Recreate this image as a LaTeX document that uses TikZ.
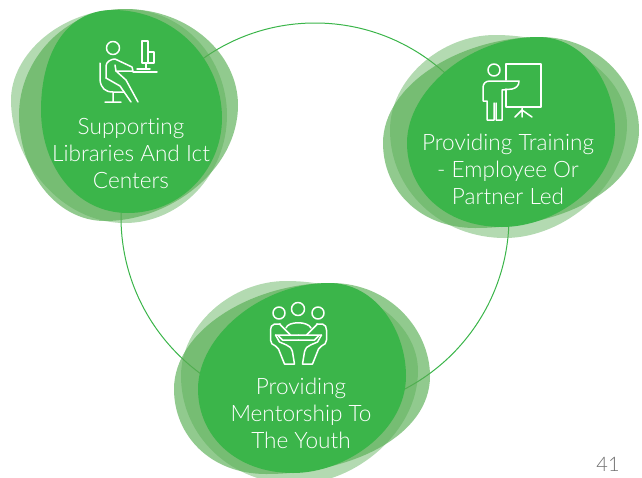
\documentclass[tikz,border=0pt]{standalone}
\usepackage{fontspec}
\setmainfont{Lato Light}[Ligatures=NoCommon]
\usepackage{xcolor}
\usetikzlibrary{positioning}
\definecolor{leaf}{RGB}{59,181,74}
\definecolor{haze}{RGB}{86,173,82}
\definecolor{pagegray}{RGB}{110,110,110}

\begin{document}
\begin{tikzpicture}[x=1pt,y=-1pt,every node/.style={align=center,text=white,font=\fontsize{22.6}{27}\selectfont},
  icon/.style={draw=white,line width=1.5pt,line join=round,line cap=round},
  mid/.style={fill=haze,fill opacity=.65},
  pale/.style={fill=haze,fill opacity=.45},
  solid/.style={fill=leaf}]
  \useasboundingbox (0,0) rectangle (642,477);

  % the wide blob, used twice
  \def\wideblobs{
    \fill[mid] (540,37) .. controls (600,37) and (639,85) .. (639,130) .. controls (639,190) and (560,228) .. (475,228) .. controls (420,228) and (383,190) .. (383,143) .. controls (383,85) and (460,37) .. (540,37) -- cycle;
    \fill[pale] (495,35) .. controls (570,35) and (627,75) .. (627,125) .. controls (627,185) and (565,238) .. (505,238) .. controls (440,238) and (390,190) .. (390,130) .. controls (390,80) and (440,35) .. (495,35) -- cycle;
    \fill[solid] (538,37) .. controls (585,37) and (615,85) .. (615,130) .. controls (615,185) and (555,227) .. (502,227) .. controls (445,227) and (407,190) .. (407,143) .. controls (407,90) and (470,37) .. (538,37) -- cycle;
  }

  % ring
  \draw[leaf,line width=1pt] (315,217) circle (194);

  % supporting
  \begin{scope}
    \fill[mid] (125,9) .. controls (190,9) and (238,55) .. (238,105) .. controls (238,170) and (170,221) .. (105,221) .. controls (55,221) and (19,170) .. (19,115) .. controls (19,60) and (65,9) .. (125,9) -- cycle;
    \fill[pale] (125,9) .. controls (185,9) and (227,60) .. (227,115) .. controls (227,175) and (180,223) .. (125,223) .. controls (60,223) and (11,160) .. (11,100) .. controls (11,55) and (60,9) .. (125,9) -- cycle;
    \fill[solid] (113,10) .. controls (175,10) and (222,60) .. (222,118) .. controls (222,170) and (180,213) .. (128,213) .. controls (75,213) and (41,165) .. (41,110) .. controls (41,55) and (65,10) .. (113,10) -- cycle;

    \draw[icon] (113,48) circle (6.5);
    \draw[icon] (142,41) rectangle (148,63);
    \draw[icon] (148,52) -- (154,52) -- (154,63) -- (148,63);
    \draw[icon] (133,72) -- (157,72) (146,63) -- (146,69) (137,69) -- (150,69);
    \draw[icon] (106,78) -- (106,66) .. controls (106,62) and (111,59) .. (115,59) -- (132,67) -- (133,71) -- (116,71) -- (126,80) -- (138,102);
    \draw[icon] (106,78) -- (120,86) -- (131,102) (115,65) -- (116,71);
    \draw[icon] (100,63) -- (100,80) .. controls (101,88) and (105,92) .. (113,92) -- (124,92) (113,92) -- (113,102) (105,102) -- (121,102);

    \node (supportlabel) at (131,154) {Supporting\\Libraries And Ict\\Centers};
  \end{scope}

  % training
  \begin{scope}
    \wideblobs
    \draw[icon] (494,70) circle (6);
    \draw[icon] (506,80) -- (506,64) -- (541,64) -- (541,107) -- (506,107) -- (506,89);
    \draw[icon] (522,107) -- (522,117) (515,117) -- (522,110) -- (532,117);
    \draw[icon] (519,81) -- (490,81) .. controls (485,81) and (483,84) .. (483,88) -- (483,101) -- (487,101) -- (487,120) -- (494,120) -- (494,103) (496,103) -- (496,120) -- (502,120) -- (502,90) -- (512,89) .. controls (516,88) and (519,86) .. (519,81);

    \node (trainlabel) at (508,169) {Providing Training\\- Employee Or\\Partner Led};
  \end{scope}

  % mentorship
  \begin{scope}[shift={(-209,246)}]
    \wideblobs
  \end{scope}
  \begin{scope}
    \draw[icon] (279,313) circle (6) (298,309) circle (6.5) (318,313) circle (6);
    \draw[icon] (286,328) .. controls (288,321) and (308,321) .. (311,328);
    \foreach \s in {1,-1} {
      \begin{scope}[shift={(298.5,0)},xscale=\s]
        \draw[icon] (-18,324) -- (-24,324) .. controls (-27,325) and (-28,327) .. (-28,330) -- (-28,340) .. controls (-28,343) and (-26,345) .. (-23,346) -- (-20,349) -- (-14,364) -- (-4,364) -- (-6,352) .. controls (-7,348) and (-9,346) .. (-12,345) -- (-19,342) -- (-23,335);
        \draw[icon] (-19,324) -- (-8,335);
        \draw[icon] (-23,335) -- (0,335) (-20,336) -- (-16,340) -- (0,340);
      \end{scope}
    }

    \node (mentorlabel) at (301,413) {Providing\\Mentorship To\\The Youth};
  \end{scope}

  \node[text=pagegray,font=\fontsize{20}{24}\selectfont] (pagenum) at (608,464) {41};
\end{tikzpicture}
\end{document}
